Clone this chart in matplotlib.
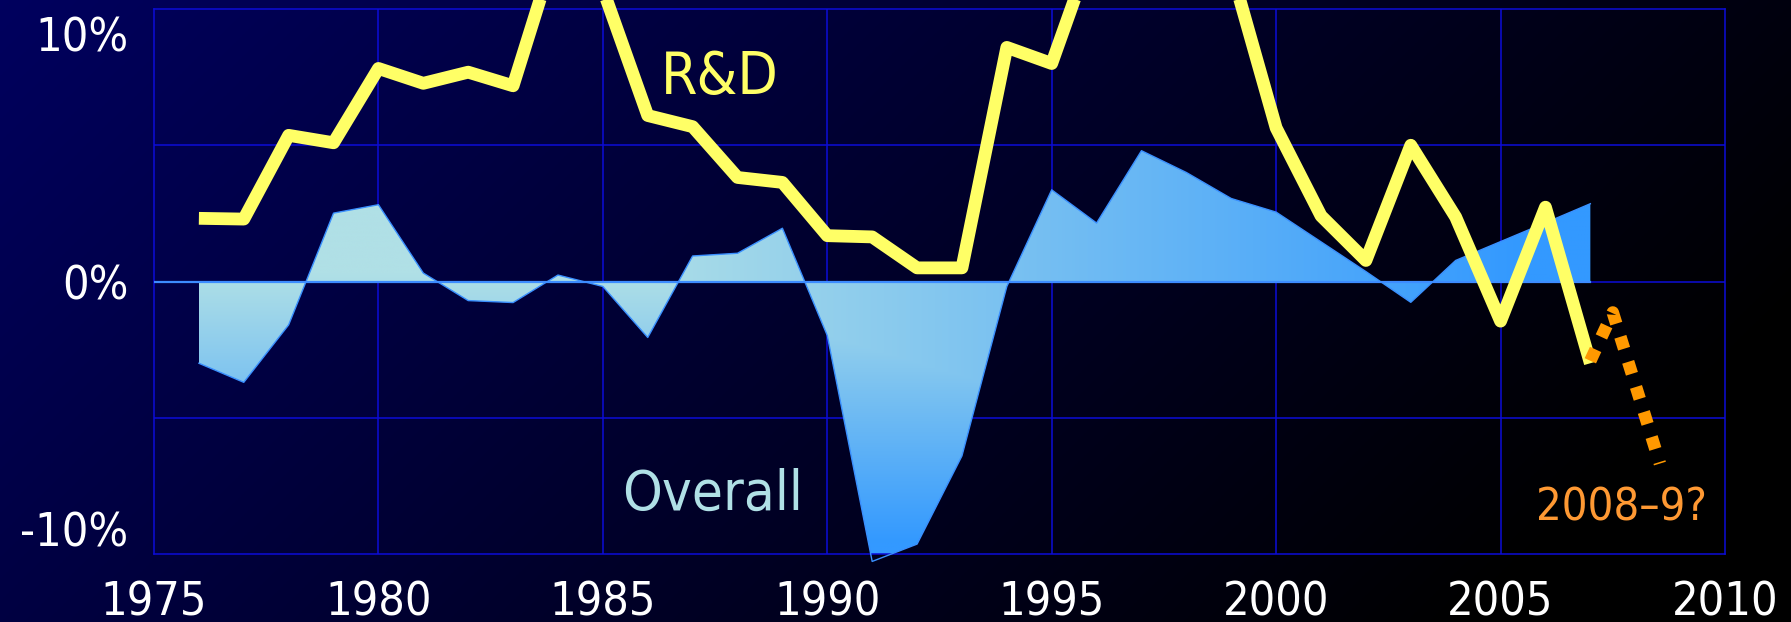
import numpy as np
import matplotlib
matplotlib.use("Agg")
import matplotlib.pyplot as plt
from matplotlib.patches import Polygon
from matplotlib.colors import to_rgb
from matplotlib import font_manager as fm

# ---------------- data ----------------
years = list(range(1976, 2008))
rd_growth = [2.55, 2.52, 5.9, 5.6, 8.6, 8.0, 8.45, 7.9, 13.7, 11.8,
             6.7, 6.25, 4.2, 4.0, 1.85, 1.8, 0.55, 0.55, 9.45, 8.8,
             13.9, 15.0, 14.5, 12.6, 6.2, 2.65, 0.85, 5.5, 2.6, -1.6,
             3.0, -3.3]
overall_growth = [-3.3, -4.07, -1.75, 2.76, 3.1, 0.34, -0.77, -0.85, 0.26, -0.2,
                  -2.26, 1.03, 1.14, 2.15, -2.18, -11.3, -10.6, -7.04, -0.2, 3.7,
                  2.36, 5.28, 4.4, 3.35, 2.8, 1.6, 0.4, -0.84, 0.85, 1.61,
                  2.37, 3.14]
proj_years = [2007.0, 2007.5, 2008.55]
proj_values = [-3.2, -1.25, -7.35]
x_ticks = [1975, 1980, 1985, 1990, 1995, 2000, 2005, 2010]
y_ticks = [-10, 0, 10]
y_tick_labels = ["-10%", "0%", "10%"]

# ---------------- font ----------------
entries = {(f.name, f.stretch) for f in fm.fontManager.ttflist}
names = {f.name for f in fm.fontManager.ttflist}
if ("DejaVu Sans", "condensed") in entries:
    plt.rcParams["font.family"] = "DejaVu Sans"
    plt.rcParams["font.stretch"] = "condensed"
elif "Liberation Sans Narrow" in names:
    plt.rcParams["font.family"] = "Liberation Sans Narrow"
else:
    plt.rcParams["font.family"] = "Liberation Sans"

W, H = 1791, 622
fig = plt.figure(figsize=(W / 100, H / 100), dpi=100)

# background gradient (navy top-left -> black right)
bg = fig.add_axes([0, 0, 1, 1], zorder=-10)
xx, yy = np.meshgrid(np.linspace(0, 1, 600), np.linspace(0, 1, 200))
b = np.clip(1 - 0.85 * xx - 0.3 * yy, 0, 1) * 0.37
bg_img = np.zeros(yy.shape + (3,))
bg_img[..., 2] = b
bg.imshow(bg_img, extent=[0, 1, 0, 1], aspect="auto", origin="upper")
bg.axis("off")

# main axes
ax = fig.add_axes([154 / W, 1 - 554 / H, (1725 - 154) / W, (554 - 9) / H])
ax.set_facecolor("none")
grid_c = "#0c0cd8"
for s in ax.spines.values():
    s.set_color(grid_c)
    s.set_linewidth(1.1)
for x in x_ticks[1:-1]:
    ax.axvline(x, color=grid_c, lw=1.1, zorder=1)
for y in (-5.5, 5.5, 0):
    ax.axhline(y, color=grid_c, lw=1.1, zorder=1)

# overall growth area with corner gradient
verts = [(years[0], 0)] + list(zip(years, overall_growth)) + [(years[-1], 0)]
poly = Polygon(verts, closed=True, facecolor="none", edgecolor="none",
               transform=ax.transData)
ax.add_patch(poly)
poly.set_clip_on(False)
ymin, ymax = min(overall_growth), max(overall_growth)
gx, gy = np.meshgrid(np.linspace(0, 1, 500), np.linspace(0, 1, 500))
t = np.clip((np.maximum(gx, gy) - 0.3) / 0.65, 0, 1)
c0 = np.array(to_rgb("#b0e0e6"))
c1 = np.array(to_rgb("#3399ff"))
gimg = c0 + (c1 - c0) * t[..., None]
ax.imshow(gimg, extent=[years[0], years[-1], ymin - 0.05, ymax + 0.05], origin="upper",
          aspect="auto", zorder=2, clip_path=poly, interpolation="bilinear")
ax.plot(years, overall_growth, color="#3a90ff", lw=1.0, zorder=3, clip_on=False)
ax.plot([1975, years[-1]], [0, 0], color="#3d8cff", lw=1.6, zorder=3)

# R&D line
ax.plot(years, rd_growth, color="#ffff66", lw=9.2, solid_joinstyle="round",
        solid_capstyle="butt", zorder=4, clip_on=False)

# projection
ax.plot(proj_years, proj_values, color="#ff9900", lw=9, linestyle=(0, (1.0, 1.1)),
        dash_capstyle="butt", zorder=5, clip_on=False)

ax.set_xlim(1975, 2010)
ax.set_ylim(-11, 11)
ax.set_aspect("auto")
ax.set_xticks(x_ticks)
ax.set_xticklabels([str(v) for v in x_ticks])
ax.set_yticks(y_ticks)
ax.set_yticklabels(y_tick_labels)
ax.tick_params(axis="both", length=0, labelsize=33.5, labelcolor="white")
ax.tick_params(axis="x", pad=19)
ax.tick_params(axis="y", pad=18.5)

ax.text(1987.61, 7.56, "R&D", color="#ffff66", fontsize=42, ha="center",
        va="baseline", zorder=6)
ax.text(1987.45, -9.22, "Overall", color="#b0e0e6", fontsize=40.5, ha="center",
        va="baseline", zorder=6)
ax.text(2007.70, -9.66, "2008\u20139?", color="#ff9933", fontsize=32.5, ha="center",
        va="baseline", zorder=6)

fig.savefig("out.png", dpi=100, facecolor="black")
